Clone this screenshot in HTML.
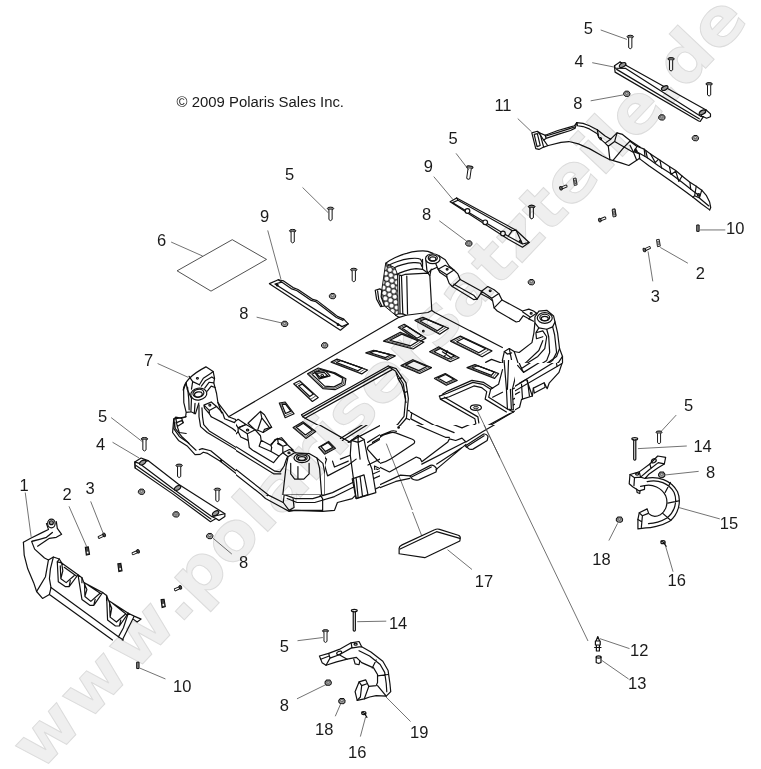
<!DOCTYPE html>
<html><head><meta charset="utf-8"><title>Polaris parts diagram</title>
<style>
html,body{margin:0;padding:0;background:#fff;}
svg{display:block}
.wm{font-family:"DejaVu Sans","Liberation Sans",sans-serif;font-weight:bold;fill:#efefef;stroke:#dcdcdc;stroke-width:1;stroke-linejoin:miter}
.lb{font-family:"Liberation Sans",sans-serif;font-size:16.5px;fill:#1a1a1a;text-anchor:middle}
.cp{font-family:"Liberation Sans",sans-serif;font-size:14.9px;fill:#1a1a1a}
.ld{stroke:#444;stroke-width:0.75;fill:none;vector-effect:non-scaling-stroke}
.p{stroke:#111;stroke-width:1.2;fill:none;stroke-linejoin:round;stroke-linecap:round;vector-effect:non-scaling-stroke}
.t{stroke:#333;stroke-width:0.85;fill:none;stroke-linejoin:round;stroke-linecap:round;vector-effect:non-scaling-stroke}
.k{stroke:#111;stroke-width:1.3;fill:none;stroke-linejoin:round;stroke-linecap:round;vector-effect:non-scaling-stroke}
.w{stroke:#111;stroke-width:1.2;fill:#fff;stroke-linejoin:round;stroke-linecap:round;vector-effect:non-scaling-stroke}
.g{stroke:#222;stroke-width:0.9;fill:#bbb;stroke-linejoin:round;vector-effect:non-scaling-stroke}
.h{stroke:#1a1a1a;stroke-width:1;fill:url(#hex);stroke-linejoin:round;vector-effect:non-scaling-stroke}
.d{stroke:#111;stroke-width:1.2;fill:#999;stroke-linejoin:round;vector-effect:non-scaling-stroke}
</style></head><body>
<svg width="761" height="769" viewBox="0 0 761 769">
<rect width="761" height="769" fill="#fff"/>
<defs>
<pattern id="hex" width="28" height="48" patternUnits="userSpaceOnUse" patternTransform="rotate(20)"><rect width="28" height="48" fill="#fff"/><path d="M14,0V8L0,16V32L14,40V48M14,8L28,16V32L14,40" fill="none" stroke="#1a1a1a" stroke-width="6"/></pattern>
<g id="scr"><ellipse cx="0" cy="0" rx="3.2" ry="1.4" fill="#777" stroke="#111" stroke-width="1"/><path d="M-1.6,1.2V11Q0,13.2 1.6,11V1.2" fill="#fff" stroke="#111" stroke-width="1" stroke-linejoin="round"/></g>
<g id="nut"><path d="M-3.1,-0.5L-1.5,-2.4L1.7,-2.4L3.2,-0.4L3,1.6L1.4,2.9L-1.7,2.7L-3.1,1.2Z" fill="#999" stroke="#111" stroke-width="1"/><ellipse cx="0" cy="-0.3" rx="1.4" ry="1" fill="#ddd" stroke="#333" stroke-width="0.6"/></g>
<g id="blt"><path d="M-1.2,-1.1H3.8Q4.6,0 3.8,1.1H-1.2Z" fill="#fff" stroke="#111" stroke-width="0.9"/><ellipse cx="-2.3" cy="0" rx="1.3" ry="1.9" fill="#666" stroke="#111" stroke-width="0.9"/></g>
<g id="bltr"><path d="M1.2,-1.1H-3.8Q-4.6,0 -3.8,1.1H1.2Z" fill="#fff" stroke="#111" stroke-width="0.9"/><ellipse cx="2.3" cy="0" rx="1.3" ry="1.9" fill="#444" stroke="#111" stroke-width="0.9"/></g>
<g id="clp"><path d="M-1.8,-3.4L0.9,-3.8L2,3L-0.8,3.6Z" fill="#fff" stroke="#111" stroke-width="0.9"/><path d="M-0.7,-1.8L0.5,-2L1,1.6L-0.2,1.8Z" fill="none" stroke="#111" stroke-width="0.6"/></g>
<g id="clpd"><path d="M-2,-3.8L1,-4.2L2.2,3.2L-1,4Z" fill="#444" stroke="#111" stroke-width="1.1"/><path d="M-0.6,0.6L0.9,0.4L1.2,2.2L-0.3,2.5Z" fill="#fff"/></g>
<g id="pin"><path d="M-1.2,-3.2H1.2V3.2H-1.2Z" fill="#888" stroke="#111" stroke-width="1"/></g>
</defs>
<!-- b1_130_330.txt -->
<clipPath id="cb1_130_330"><rect x="-152.2" y="-152.2" width="690.0" height="1116.1"/></clipPath>
<g transform="translate(130,330) scale(0.19711)" clip-path="url(#cb1_130_330)">
<clipPath id="cb1_130_330"><rect x="-152.2" y="-152.2" width="690.0" height="1116.1"/></clipPath>
<path class="p" d="M270,305 C274,268 310,226 385,187 L422,211 L429,245 L425,268 L439,321 L446,368 L465,421"/>
<path class="p" d="M352,278 L372,245 L409,221 L422,211 M362,285 L382,258 L415,238 L425,245 M379,295 L402,265 L425,268 M392,310 L412,285 L432,292"/>
<ellipse class="p" cx="349" cy="325" rx="41" ry="30" transform="rotate(-10 349 325)"/>
<ellipse class="p" cx="347" cy="321" rx="28" ry="20" transform="rotate(-10 347 321)"/>
<ellipse class="p" cx="347" cy="327" rx="20" ry="13" transform="rotate(-10 347 327)"/>
<ellipse class="p" cx="342" cy="245" rx="5" ry="4" transform="rotate(0 342 245)"/>
<path class="p" d="M375,381 L412,365 L439,388 L402,408 Z M375,381 L378,396 L402,424 L402,408 M402,424 L412,440"/>
<ellipse class="p" cx="405" cy="381" rx="5" ry="5" transform="rotate(0 405 381)"/>
<path class="p" d="M312,348 L309,415 L332,425 L349,371 M272,301 L273,368 L285,418 L309,415 M285,268 L290,300 L312,348 M285,418 L282,440"/>
<path class="p" d="M282,440 L222,452 L216,520 L246,560 L292,590 L330,632 L356,631 L372,620 L394,626 L458,666 L560,745 L640,808"/>
<path class="p" d="M222,452 L232,442 L262,448 L270,470 L240,490 L250,520 L285,525 M232,442 L236,470 L240,490 M228,470 L222,500 L250,540 L292,570 L335,610"/>
<path class="p" d="M365,395 L368,440 L374,480 L402,512 L548,602 L640,660"/>
<path class="p" d="M350,380 L350,440 L358,490 L392,520 L548,613 L640,671"/>
<path class="p" d="M412,440 L470,470 L520,500 L545,520 L575,470 L540,455 L530,470 L480,450 L470,420 L439,388"/>
<path class="p" d="M545,455 L590,480 L640,515 L600,540 L560,510 M640,515 L660,540 L610,580 L620,600 L700,640 L761,662 M600,540 L610,580"/>
<ellipse class="p" cx="597" cy="508" rx="5" ry="5" transform="rotate(0 597 508)"/>
<path class="p" d="M600,500 L650,440 L690,420 L720,490 L700,510 L660,530 M650,440 L660,470 L700,510 M690,420 L761,470"/>
<ellipse class="d" cx="462" cy="663" rx="3" ry="3" transform="rotate(0 462 663)"/>
<path class="ld" d="M140,170 L295,240"/>
<path class="p" d="M292,290 L298,350 L300,405 M330,372 L326,425 M285,268 L272,301 M300,235 L318,262 L352,278 M318,262 L312,300 M446,368 L470,400 L500,440 L540,455"/>
<path class="p" d="M222,452 L230,500 L262,540 L300,575 M262,448 L285,440 M236,470 L262,460 L270,470"/>
</g>
<!-- b2_270_300.txt -->
<clipPath id="cb2_270_300"><rect x="-111.6" y="0.0" width="263.8" height="507.3"/><rect x="152.2" y="0.0" width="253.7" height="634.2"/><rect x="405.9" y="304.4" width="304.4" height="329.8"/></clipPath>
<g transform="translate(270,300) scale(0.19711)" clip-path="url(#cb2_270_300)">
<clipPath id="cb2_270_300"><rect x="-111.6" y="0.0" width="263.8" height="507.3"/><rect x="152.2" y="0.0" width="253.7" height="634.2"/><rect x="405.9" y="304.4" width="304.4" height="329.8"/></clipPath>
<path class="k" d="M160,582 L600,335 M166,592 L608,342"/>
<path class="p" d="M160,582 L166,592 L178,600 M600,335 L640,348 L690,420 L702,500 L692,600 L650,648 M608,342 L636,360 L676,425 L688,500 L680,590 L645,635"/>
<path class="p" d="M178,600 L622,352 M178,600 L420,730 M645,635 L360,745 M650,648 L380,761 M690,600 L761,628 M700,560 L761,585"/>
<path class="p" d="M640,370 L650,400 L668,395 M668,430 L680,470 L695,465 M650,400 L668,430 M680,470 L690,520"/>
<ellipse class="d" cx="652" cy="648" rx="5" ry="4" transform="rotate(0 652 648)"/>
<path class="p" d="M430,690 L470,700 L480,761 M420,730 L430,690 M600,761 L590,730"/>
<path class="p" d="M560,700 L690,670 L761,720"/>
<path class="p" d="M540,0 L560,40 L600,70 L660,90 L665,60 M640,95 L700,85 L761,65"/>
</g>
<!-- b34_420_240.txt -->
<g transform="translate(420,240) scale(0.15769)">
<path class="p" d="M120,100 L160,125 L185,165 L215,190 L240,215 L255,250 L390,325 L430,295 L470,315 L500,340 L520,380 L650,450 L690,438 L720,450 L761,480"/>
<path class="p" d="M115,185 L125,205 L170,235 L185,275 L205,295 L340,378 L362,375 L385,340 L395,345 L440,370 L460,385 L470,430 L490,450 L610,520 L630,515 L655,480 L690,500 L720,515"/>
<path class="p" d="M115,185 L160,160 L215,190 L170,220 Z M170,220 L170,235 M120,100 L100,150 L115,185"/>
<path class="p" d="M390,325 L455,370 L500,340 M455,370 L460,385 M385,340 L390,325"/>
<path class="p" d="M650,455 L700,490 L740,465 M700,490 L690,500 M255,250 L205,295 M520,380 L470,430 M362,375 L340,350 L215,280"/>
<ellipse class="p" cx="172" cy="186" rx="6" ry="5" transform="rotate(0 172 186)"/>
<ellipse class="p" cx="445" cy="322" rx="6" ry="5" transform="rotate(0 445 322)"/>
<ellipse class="p" cx="705" cy="466" rx="6" ry="5" transform="rotate(0 705 466)"/>
</g>
<!-- b3_350_210.txt -->
<clipPath id="cb3_350_210"><rect x="-50.7" y="-50.7" width="659.5" height="811.7"/></clipPath>
<g transform="translate(350,210) scale(0.19711)" clip-path="url(#cb3_350_210)">
<clipPath id="cb3_350_210"><rect x="-50.7" y="-50.7" width="659.5" height="811.7"/></clipPath>
<path class="h" d="M181,270 L228,293 L241,327 L245,527 L231,534 L175,487 L158,440 L161,407 Z"/>
<path class="w" d="M278,327 L395,320 L405,333 L415,510 L395,520 L285,534 L268,527 L261,333 Z"/>
<path class="p" d="M181,270 C200,255 250,228 288,220 C320,210 370,204 395,210 L421,220"/>
<path class="p" d="M191,283 C210,272 260,252 301,247 C330,243 350,246 358,250 L368,270 M225,293 C240,285 290,268 321,267 C340,266 352,268 358,270 L365,287 M238,327 C250,318 300,300 335,297 L368,301 L395,320"/>
<path class="p" d="M241,327 L261,333 M245,527 L268,527 M231,534 L250,545 L285,534 M250,335 L254,527 M288,335 L292,528 M368,250 L368,301 M385,255 L390,305 L395,320"/>
<ellipse class="w" cx="420" cy="247" rx="37" ry="25" transform="rotate(0 420 247)"/>
<ellipse class="p" cx="420" cy="244" rx="23" ry="16" transform="rotate(0 420 244)"/>
<ellipse class="p" cx="420" cy="248" rx="16" ry="10" transform="rotate(0 420 248)"/>
<path class="w" d="M128,407 L151,400 L161,407 L158,440 L175,487 L155,490 L135,453 Z"/>
<path class="p" d="M140,410 L146,455 L160,485 M395,320 L410,305 L440,292 M415,510 L430,520 L761,692 M405,333 L412,300"/>
<ellipse class="p" cx="372" cy="615" rx="4" ry="4" transform="rotate(0 372 615)"/>
</g>
<!-- b4_460_250.txt -->
<clipPath id="cb4_460_250"><rect x="50.7" y="-50.7" width="761.0" height="624.0"/></clipPath>
<g transform="translate(460,250) scale(0.19711)" clip-path="url(#cb4_460_250)">
<clipPath id="cb4_460_250"><rect x="50.7" y="-50.7" width="761.0" height="624.0"/></clipPath>
<path class="w" d="M380,340 L400,310 L440,306 L475,335 L482,365 L470,390 L440,402 L400,395 L380,370 Z"/>
<ellipse class="p" cx="430" cy="345" rx="38" ry="27" transform="rotate(0 430 345)"/>
<ellipse class="p" cx="430" cy="343" rx="25" ry="17" transform="rotate(0 430 343)"/>
<ellipse class="p" cx="430" cy="348" rx="18" ry="11" transform="rotate(0 430 348)"/>
<path class="p" d="M482,365 L495,420 L505,500 L520,540 L520,600 L490,640 L470,700 L440,761"/>
<path class="p" d="M470,390 L480,430 L490,520 L470,560 L330,660 L250,700 M440,402 L450,440 L455,520 L440,560 L320,640"/>
<path class="p" d="M385,420 L420,410 L440,440 L430,500 L395,540 L300,600 L290,580 M400,395 L385,420 L388,450 L420,440"/>
<path class="p" d="M380,370 L375,420 L365,470 L300,520 L275,515 L250,500 L225,515 L215,560 L235,700 L250,761"/>
<path class="p" d="M275,515 L300,590 L330,575 L400,510 L420,460 M250,500 L262,560 L268,700 M225,515 L240,528 L262,522"/>
<path class="p" d="M505,500 L490,540 L350,640 L345,700 L335,761 M520,540 L500,570 L360,665 M490,640 L430,680 L440,761 M300,761 L310,700 L345,700"/>
<path class="p" d="M0,383 L215,495"/>
<path class="p" d="M130,570 L160,555 L215,575 M140,600 L170,590"/>
<ellipse class="p" cx="150" cy="605" rx="5" ry="4" transform="rotate(0 150 605)"/>
<path class="p" d="M0,680 L60,690 L75,740 L150,761 M0,700 L50,712 L60,761 M60,690 L215,640"/>
<use href="#nut" transform="translate(362,162) rotate(0) scale(5.0733)"/>
</g>
<!-- b5_400_340.txt -->
<clipPath id="cb5_400_340"><rect x="50.7" y="101.5" width="532.7" height="329.8"/><rect x="507.3" y="431.2" width="76.1" height="329.8"/></clipPath>
<g transform="translate(400,340) scale(0.19711)" clip-path="url(#cb5_400_340)">
<clipPath id="cb5_400_340"><rect x="50.7" y="101.5" width="532.7" height="329.8"/><rect x="507.3" y="431.2" width="76.1" height="329.8"/></clipPath>
<path class="p" d="M200,285 L240,270 L370,215 L420,225 L460,250 L450,290 L545,350 L575,365"/>
<path class="p" d="M205,300 L250,288 L375,233 L415,242 L440,262 L432,300 L540,365"/>
<path class="p" d="M200,285 L205,300 L380,400 L385,425 L300,470 L250,495 L240,520 L100,600 L70,600 L0,640"/>
<path class="p" d="M225,290 L395,390 L400,420 M215,275 L235,262 L365,205 L425,215 L470,245"/>
<ellipse class="p" cx="385" cy="343" rx="28" ry="14" transform="rotate(0 385 343)"/>
<ellipse class="g" cx="385" cy="343" rx="13" ry="6" transform="rotate(0 385 343)"/>
<path class="w" d="M525,65 L550,42 L580,62 L600,130 L570,250 L575,355 L545,350 L540,250 Z"/>
<path class="p" d="M550,42 L552,70 L545,250 M525,65 L552,70 L580,62 M560,250 L565,350"/>
<path class="p" d="M590,80 L640,50 L700,0 M600,130 L660,100 L761,60 M610,100 L660,75 L720,20"/>
<path class="p" d="M575,365 L761,250 M570,250 L640,215 L761,160 M575,300 L761,200 M575,330 L761,225"/>
<path class="p" d="M610,230 L650,210 L660,290 L630,300 Z M690,230 L740,215 L745,240 M625,235 L632,295"/>
<path class="p" d="M460,250 L500,225 L520,150 M470,290 L520,265"/>
<path class="p" d="M575,365 L430,450 L440,480 L410,520 L355,555 L320,535 L300,500 L250,500"/>
<path class="w" d="M325,535 L420,480 L445,500 L355,555 Z"/>
<path class="w" d="M50,680 L160,635 L190,660 L80,705 Z"/>
<path class="p" d="M335,540 L420,492 M60,688 L165,645"/>
<path class="p" d="M0,620 L80,595 L100,615 L250,520 L300,505 L330,530 M100,630 L320,545 M0,655 L50,680 M0,690 L60,700 M560,372 L425,445"/>
<path class="p" d="M0,180 L35,230 L45,350 L0,420 M0,340 L60,370 L240,470 M20,200 L30,340 M0,480 L60,500 L80,530 L0,575 M60,370 L55,400 L240,495"/>
</g>
<!-- b6_230_400.txt -->
<clipPath id="cb6_230_400"><rect x="365.3" y="126.8" width="395.7" height="76.1"/><rect x="482.0" y="202.9" width="279.0" height="279.0"/><rect x="91.3" y="482.0" width="669.7" height="329.8"/></clipPath>
<g transform="translate(230,400) scale(0.19711)" clip-path="url(#cb6_230_400)">
<clipPath id="cb6_230_400"><rect x="365.3" y="126.8" width="395.7" height="76.1"/><rect x="482.0" y="202.9" width="279.0" height="279.0"/><rect x="91.3" y="482.0" width="669.7" height="329.8"/></clipPath>
<path class="p" d="M0,100 L40,95 L60,130 L100,155 L130,175 L160,170 L215,215 L250,195 L290,220 L300,250"/>
<path class="w" d="M90,120 L150,60 L185,90 L205,135 L150,170 L130,150 Z"/>
<path class="p" d="M150,60 L160,100 L205,135 M160,100 L130,150"/>
<path class="p" d="M45,140 L85,120 L130,150 L100,170 Z M0,180 L30,160 L45,140 M100,170 L95,225 L215,305 L225,320 L270,280 L250,260 M0,230 L230,345 L270,350 L280,300"/>
<ellipse class="p" cx="90" cy="148" rx="6" ry="5" transform="rotate(0 90 148)"/>
<path class="p" d="M215,215 L260,235 L280,215 M260,235 L255,265 L300,275 M0,150 L20,140 L30,160"/>
<ellipse class="p" cx="290" cy="270" rx="5" ry="4" transform="rotate(0 290 270)"/>
<path class="w" d="M300,285 L330,265 L400,268 L440,295 L460,340 L455,480 L470,500 L470,560 L330,560 L300,560 L270,520 L275,480 L285,330 Z"/>
<ellipse class="p" cx="360" cy="295" rx="45" ry="28" transform="rotate(0 360 295)"/>
<ellipse class="p" cx="360" cy="293" rx="28" ry="17" transform="rotate(0 360 293)"/>
<ellipse class="p" cx="360" cy="297" rx="20" ry="11" transform="rotate(0 360 297)"/>
<path class="p" d="M315,300 L320,370 L345,395 L390,390 L405,340 L405,300 M300,560 L325,545 L320,500"/>
<path class="p" d="M0,300 L190,480 L270,520 M0,330 L180,500 L300,565 L330,560 L470,565 L530,560 L545,520 L620,500 L640,480 L700,470 L761,440"/>
<path class="p" d="M275,480 L330,500 L420,500 L520,470 L620,420 L761,360 M290,500 L340,520 L430,520 L530,490 L620,445 L761,385"/>
<ellipse class="d" cx="190" cy="482" rx="3" ry="3" transform="rotate(0 190 482)"/>
<path class="w" d="M615,205 L650,180 L680,200 L700,300 L720,350 L740,470 L640,500 L610,280 Z"/>
<path class="p" d="M650,180 L650,215 L660,300 M615,205 L650,215 L680,200 M620,400 L680,380 L700,480 L640,500 Z M640,395 L650,495 M660,388 L672,488 M610,280 L560,300"/>
<path class="p" d="M470,290 L490,300 L480,330 L495,385 L600,330 L640,300 M520,310 L530,340 L600,310 M470,290 L470,320 L480,330"/>
<ellipse class="p" cx="478" cy="292" rx="5" ry="4" transform="rotate(0 478 292)"/>
<path class="p" d="M390,90 L610,215 M560,195 L761,70 M570,205 L761,85 M600,215 L761,130 M700,330 L761,300"/>
</g>
<!-- b6a_225_395.txt -->
<clipPath id="cb6a_225_395"><rect x="83.7" y="38.1" width="502.3" height="304.4"/><rect x="83.7" y="342.4" width="677.3" height="418.6"/></clipPath>
<g transform="translate(225,395) scale(0.13141)" clip-path="url(#cb6a_225_395)">
<clipPath id="cb6a_225_395"><rect x="83.7" y="38.1" width="502.3" height="304.4"/><rect x="83.7" y="342.4" width="677.3" height="418.6"/></clipPath>
<path class="p" d="M0,180 L70,205 L100,185 L160,225 L100,250 L70,205 M0,290 L55,325 L100,280 L100,250"/>
<path class="p" d="M100,250 L160,225 L230,265 L170,295 Z"/>
<ellipse class="p" cx="172" cy="266" rx="9" ry="7" transform="rotate(0 172 266)"/>
<path class="w" d="M175,215 L270,125 L300,150 L355,245 L290,285 L255,270 L230,265 Z"/>
<path class="p" d="M270,125 L280,175 L340,250 M250,262 L280,175 M290,285 L300,262 L355,245"/>
<path class="p" d="M170,295 L185,400 L210,420 L370,515 L410,465 L350,430 L355,400 M100,280 L120,320 L175,345"/>
<path class="p" d="M230,265 L270,310 L275,345 L350,385 L380,340 L430,325 L470,370 M275,345 L260,390 L350,430 M350,385 L355,400"/>
<path class="p" d="M440,440 L490,415 L540,440 L480,470 Z M350,375 L400,330 L440,345 L520,420 L490,415 M400,370 L440,390 L470,380 M400,330 L405,365 L440,390 L440,440"/>
<ellipse class="p" cx="487" cy="441" rx="8" ry="6" transform="rotate(0 487 441)"/>
<path class="p" d="M0,340 L380,580 L420,585 L450,540 L470,480 M0,370 L370,600 L425,600 M410,465 L440,440 M480,470 L470,480"/>
<path class="p" d="M0,500 L330,761 M0,540 L280,761"/>
<path class="w" d="M480,470 L530,440 L640,445 L700,480 L745,520 L761,600 L761,761 L440,761 L465,540 Z"/>
<ellipse class="p" cx="585" cy="480" rx="60" ry="35" transform="rotate(0 585 480)"/>
<ellipse class="p" cx="585" cy="477" rx="40" ry="22" transform="rotate(0 585 477)"/>
<ellipse class="p" cx="585" cy="483" rx="28" ry="14" transform="rotate(0 585 483)"/>
<path class="p" d="M500,520 L500,600 L530,640 L600,640 L640,600 L640,520 M555,545 L555,640 M700,480 L720,560 L735,761"/>
</g>
<!-- b7_340_400.txt -->
<clipPath id="cb7_340_400"><rect x="131.9" y="126.8" width="71.0" height="228.3"/><rect x="202.9" y="568.2" width="558.1" height="319.6"/></clipPath>
<g transform="translate(340,400) scale(0.19711)" clip-path="url(#cb7_340_400)">
<clipPath id="cb7_340_400"><rect x="131.9" y="126.8" width="71.0" height="228.3"/><rect x="202.9" y="568.2" width="558.1" height="319.6"/></clipPath>
<path class="p" d="M140,250 Q135,235 160,225 L250,172 Q262,166 280,172 L372,205 Q385,212 370,225 L225,318 Q210,325 195,312 Z"/>
<path class="p" d="M165,215 L255,162 Q268,156 285,162"/>
<path class="ld" d="M235,225 L415,690"/>
<path class="p" d="M0,175 L320,0 M0,190 L330,5 M350,30 L340,90 L140,215 M350,100 L540,200 L560,195 M380,50 L640,165 M330,5 L350,30 M345,60 L520,150"/>
<ellipse class="d" cx="295" cy="140" rx="4" ry="3" transform="rotate(0 295 140)"/>
<path class="p" d="M175,335 L240,365 L390,290 L410,300 L400,325 L470,330 L490,355 M300,395 L250,440 L185,465 L175,335 M185,350 L240,380 L385,305"/>
<path class="w" d="M350,375 L460,330 L490,350 L385,400 Z"/>
<path class="w" d="M630,225 L730,175 L750,195 L660,250 Z"/>
<path class="p" d="M358,380 L462,338 M638,230 L732,183 M545,200 L600,190 L640,215 L420,300 L410,300 M490,355 L640,275 M300,395 L350,378"/>
<path class="p" d="M180,460 L250,430 L300,400 M195,472 L640,245 M250,440 L400,370 M640,215 L640,245"/>
<ellipse class="p" cx="690" cy="38" rx="28" ry="13" transform="rotate(0 690 38)"/>
<ellipse class="g" cx="690" cy="38" rx="12" ry="5" transform="rotate(0 690 38)"/>
<path class="p" d="M510,10 L560,0 M520,15 L690,100 L660,130 L600,150 M690,100 L761,130 M700,120 L761,150"/>
<path class="w" d="M300,752 Q300,742 315,735 L480,658 Q492,652 505,656 L600,686 Q612,690 610,702 L608,715 L430,800 L300,780 Z"/>
<path class="p" d="M305,756 L490,668 L608,702"/>
</g>
<!-- b7a_380_390.txt -->
<clipPath id="cb7a_380_390"><rect x="0.0" y="222.0" width="761.0" height="551.7"/></clipPath>
<g transform="translate(380,390) scale(0.15769)" clip-path="url(#cb7a_380_390)">
<clipPath id="cb7a_380_390"><rect x="0.0" y="222.0" width="761.0" height="551.7"/></clipPath>
<path class="p" d="M160,0 L165,60 L180,130 L160,200 L120,230 M185,0 L190,60 L200,130 L185,190"/>
<path class="p" d="M205,120 L520,240 L600,205 L590,180 L420,100 L380,60 M185,200 L415,300 L440,300 M200,160 L470,270"/>
<path class="p" d="M0,300 Q10,285 70,270 Q85,266 100,272 L205,312 Q228,322 215,340 L70,436 Q40,455 0,465 M0,290 L72,260 Q88,256 104,262"/>
<ellipse class="d" cx="118" cy="238" rx="5" ry="4" transform="rotate(0 118 238)"/>
<path class="ld" d="M40,340 L205,761"/>
<path class="p" d="M0,490 L60,520 L230,425 L255,435 L265,455 L430,330 L440,310 L480,320 L520,305 L545,330 L650,265 L761,200"/>
<path class="w" d="M190,545 L320,478 Q340,470 360,500 L355,520 L245,570 Q220,575 205,565 Z"/>
<path class="w" d="M540,355 L655,280 Q675,275 685,295 L680,320 L590,375 Q570,380 560,370 Z"/>
<path class="p" d="M200,552 L325,488 M548,362 L660,290 M0,600 L130,540 L190,545 M265,470 L540,330 M0,620 L100,580 M360,470 L520,365 M100,580 L190,560 M355,505 L545,345"/>
<ellipse class="p" cx="607" cy="110" rx="38" ry="20" transform="rotate(0 607 110)"/>
<ellipse class="g" cx="607" cy="110" rx="15" ry="8" transform="rotate(0 607 110)"/>
<path class="ld" d="M615,130 L761,430"/>
</g>
<!-- b8_490_330.txt -->
<clipPath id="cb8_490_330"><rect x="126.8" y="167.4" width="684.9" height="644.3"/></clipPath>
<g transform="translate(490,330) scale(0.19711)" clip-path="url(#cb8_490_330)">
<clipPath id="cb8_490_330"><rect x="126.8" y="167.4" width="684.9" height="644.3"/></clipPath>
<path class="p" d="M330,0 L350,60 L370,130 L365,170 L350,215 L300,270 L290,298 L275,268 L220,295 L215,335 L160,352 L150,392 L100,420 L0,480 M0,495 L100,435 L110,420"/>
<path class="p" d="M125,112 L145,160 L160,195 L260,130 L275,100 L270,50 L295,40 L290,0"/>
<path class="p" d="M140,180 L170,215 L275,150 L300,110 L310,0 M160,195 L170,215 M260,130 L275,150"/>
<path class="p" d="M120,290 L330,160 L350,140 L360,100 M125,310 L340,185 L365,170 M122,330 L150,315"/>
<path class="p" d="M150,270 L185,250 L215,335 M160,275 L165,350 M190,255 L200,335 M225,320 L280,290 L275,268 M225,320 L220,295"/>
<path class="p" d="M215,20 L250,5 L280,20 L250,40 Z M215,20 L218,50 L250,70 L250,40 M250,70 L270,50"/>
<path class="p" d="M310,60 L330,120 L340,185 M0,100 L70,130 M0,300 L85,330 M0,200 L40,210 L60,300 L40,330 M0,240 L45,250"/>
</g>
<!-- p11a_520_110.txt -->
<g transform="translate(520,110) scale(0.15769)">
<path class="p" d="M75,145 L110,135 L130,160 L150,235 L120,250 L100,245 Z M90,155 L110,150 L128,225 L108,232 Z M110,135 L135,150 L160,160"/>
<path class="p" d="M160,160 L240,130 L310,110 L345,100 L360,80 L400,85 L440,100 L490,125 L540,165 L575,185 L615,145 L650,155 L700,195 L745,225 L761,235"/>
<path class="p" d="M165,165 L245,140 L315,118 L345,108 M165,180 L240,155 L320,130 L350,115 L360,80 M160,160 L165,180 L150,190"/>
<path class="p" d="M150,235 L180,225 L260,205 L310,200 L370,215 L440,245 L520,290 L570,315 L640,335 L690,352 L740,318 L761,305"/>
<path class="p" d="M130,160 L150,190 L175,225 M360,80 L365,100 L400,105 L440,120 L490,150 L500,175"/>
<path class="p" d="M490,125 L500,175 L540,210 L575,185 M540,210 L560,230 L600,200 L615,145 M600,200 L660,235 L700,195 M660,235 L590,320 M660,235 L720,270 L745,225 M720,270 L740,318 M560,230 L570,315"/>
<ellipse class="p" cx="512" cy="182" rx="5" ry="7" transform="rotate(-20 512 182)"/>
<ellipse class="p" cx="738" cy="262" rx="5" ry="5" transform="rotate(0 738 262)"/>
</g>
<!-- p11b_630_120.txt -->
<g transform="translate(630,120) scale(0.15769)">
<path class="p" d="M0,135 L40,165 L90,185 L130,215 L190,255 L250,295 L290,320 L330,355 L380,395 L420,420 L455,445 L485,480 L505,520 L512,555 L505,570"/>
<path class="p" d="M60,245 L120,290 L200,345 L270,395 L340,445 L400,490 L450,530 L505,570"/>
<path class="p" d="M40,200 L110,240 L180,290 L250,335 L330,395 L400,450 L440,480"/>
<path class="p" d="M100,195 L110,240 M130,215 L160,270 L180,250 M250,295 L260,345 L290,325 L310,390 L330,355 M190,255 L200,305 M380,395 L385,440"/>
<path class="p" d="M420,420 L410,480 L440,495 L455,445 M440,495 L500,545 M410,480 L400,490 M0,160 L20,200 L60,215 L60,245 M90,185 L95,230"/>
<ellipse class="p" cx="435" cy="475" rx="8" ry="8" transform="rotate(0 435 475)"/>
<ellipse class="p" cx="35" cy="190" rx="5" ry="5" transform="rotate(0 35 190)"/>
</g>
<!-- p15_560_390.txt -->
<g transform="translate(560,390) scale(0.26413)">
<path class="w" d="M265,320 L300,310 L340,280 L370,250 L400,255 L395,280 L370,295 L335,320 L322,335 C370,325 420,340 445,385 C460,420 450,470 415,497 C385,515 340,522 325,522 L295,526 L295,490 L300,465 L330,450 L336,468 C350,482 365,480 380,472 C400,460 412,430 400,400 C385,370 350,355 320,362 L320,376 L300,382 L275,366 L262,355 Z"/>
<path class="p" d="M300,310 L305,330 L340,300 L372,275 L395,280 M305,330 L322,335 M340,280 L345,297 M265,320 L282,332 L305,330 M282,332 L280,362 M305,365 L320,362"/>
<path class="p" d="M330,347 C372,338 412,352 432,388 C445,420 436,460 405,485 C380,500 350,506 335,506 M418,350 L398,388 M450,420 L408,428 M420,494 L388,466"/>
<path class="p" d="M300,465 L312,476 L332,468 M312,476 L308,520 M295,490 L308,498"/>
<ellipse class="p" cx="355" cy="268" rx="10" ry="7" transform="rotate(-35 355 268)"/>
<ellipse class="p" cx="292" cy="318" rx="6" ry="4" transform="rotate(0 292 318)"/>
<path class="p" d="M290,375 L292,388 L302,392 L303,382"/>
<use href="#scr" transform="translate(375,160) rotate(0) scale(3.5968)"/>
<ellipse class="w" cx="283" cy="185" rx="11" ry="5" transform="rotate(0 283 185)"/>
<path class="p" d="M279,188 L279,262 Q283,270 287,262 L287,188"/>
<use href="#nut" transform="translate(385,320) rotate(0) scale(3.7861)"/>
<use href="#nut" transform="translate(225,490) rotate(0) scale(3.7861)"/>
<ellipse class="w" cx="390" cy="576" rx="8" ry="6" transform="rotate(0 390 576)"/>
<path class="p" d="M394,580 L402,592 M383,572 L397,580"/>
<path class="ld" d="M440,95 L380,160"/>
<path class="ld" d="M295,222 L480,212"/>
<path class="ld" d="M525,308 L395,322"/>
<path class="ld" d="M605,488 L450,445"/>
<path class="ld" d="M218,505 L185,570"/>
<path class="ld" d="M400,592 L428,688"/>
</g>
<!-- p19_260_590.txt -->
<g transform="translate(260,590) scale(0.26413)">
<path class="w" d="M225,250 L260,240 L300,225 L345,200 L375,195 L385,215 L420,235 L465,270 L485,305 L492,355 L495,385 L478,402 L440,400 L415,405 L395,412 L368,418 L360,385 L375,348 L400,340 L412,365 L440,362 L445,350 L445,320 L430,295 L385,275 L365,255 L330,262 L290,272 L250,285 L235,275 Z"/>
<path class="p" d="M260,240 L265,258 L300,245 L345,220 L375,215 L385,215 M265,258 L250,285 M345,200 L348,218 M230,262 L262,250 M300,245 L330,262"/>
<path class="p" d="M375,230 L415,250 L455,282 L472,312 L478,355 L480,385 M440,265 L425,295 M485,320 L445,325 M478,402 L445,362 M412,365 L395,412 M375,348 L385,362 L405,355 M385,362 L380,405 L368,418"/>
<ellipse class="p" cx="300" cy="238" rx="10" ry="6" transform="rotate(-25 300 238)"/>
<ellipse class="p" cx="362" cy="205" rx="6" ry="4" transform="rotate(0 362 205)"/>
<path class="p" d="M355,262 L360,280 L375,283 L378,268"/>
<ellipse class="w" cx="357" cy="78" rx="11" ry="5" transform="rotate(0 357 78)"/>
<path class="p" d="M353,81 L353,152 Q357,160 361,152 L361,81"/>
<use href="#scr" transform="translate(248,155) rotate(0) scale(3.5968)"/>
<use href="#nut" transform="translate(258,350) rotate(0) scale(3.7861)"/>
<use href="#nut" transform="translate(310,420) rotate(0) scale(3.7861)"/>
<ellipse class="w" cx="393" cy="466" rx="8" ry="6" transform="rotate(0 393 466)"/>
<path class="p" d="M397,470 L405,482 M386,462 L400,470"/>
<path class="ld" d="M368,120 L478,118"/>
<path class="ld" d="M142,192 L238,180"/>
<path class="ld" d="M140,412 L250,358"/>
<path class="ld" d="M305,432 L285,478"/>
<path class="ld" d="M400,480 L380,555"/>
<path class="ld" d="M570,498 L470,398"/>
</g>
<!-- p1_0_460.txt -->
<g transform="translate(0,460) scale(0.19711)">
<use href="#clpd" transform="translate(443,462) rotate(0) scale(5.0733)"/>
<use href="#bltr" transform="translate(518,385) rotate(-25) scale(5.0733)"/>
<use href="#bltr" transform="translate(690,468) rotate(-25) scale(5.0733)"/>
<use href="#clpd" transform="translate(608,546) rotate(0) scale(5.0733)"/>
<path class="ld" d="M128,165 L158,390"/>
<path class="ld" d="M350,235 L440,440"/>
<path class="ld" d="M460,210 L525,375"/>
</g>
<!-- p1b_60_540.txt -->
<g transform="translate(60,540) scale(0.19711)">
<use href="#clpd" transform="translate(523,322) rotate(0) scale(5.0733)"/>
<use href="#bltr" transform="translate(600,245) rotate(-25) scale(5.0733)"/>
<use href="#pin" transform="translate(395,636) rotate(0) scale(5.0733)"/>
<path class="ld" d="M405,650 L535,705"/>
</g>
<!-- p1c_10_490.txt -->
<g transform="translate(10,490) scale(0.19711)">
<path class="p" d="M68,265 L105,245 L165,215 L195,200 L185,170 M235,160 L240,195 L262,225 L235,240 L200,245 L140,285"/>
<ellipse class="p" cx="210" cy="170" rx="19" ry="22" transform="rotate(0 210 170)"/>
<ellipse class="d" cx="210" cy="166" rx="10" ry="10" transform="rotate(0 210 166)"/>
<path class="k" d="M112,260 L150,250 L185,240 L215,215"/>
<path class="p" d="M68,265 L72,330 L90,400 L120,470 L135,515 L165,550 L200,530 L208,495"/>
<path class="p" d="M110,262 L125,300 L175,345 L195,355 M195,355 L180,440 L150,490 L135,515 M220,340 L205,400 L200,450 L208,495"/>
<path class="p" d="M195,355 L220,340 L250,350 L262,370"/>
<path class="p" d="M240,365 L262,370 L345,430 L300,490 L280,490 L245,465 Z M255,385 L258,450 L285,470 L325,435 M262,370 L268,410 L258,450 M300,490 L306,460 M275,392 L335,435"/>
<path class="p" d="M345,430 L365,445 L375,470 L470,520 L425,585 L405,585 L365,555 Z M378,470 L380,540 L410,565 L455,525 M375,470 L390,505 L380,540 M425,585 L432,555 M395,482 L460,525"/>
<path class="p" d="M470,520 L490,535 L500,560 L600,625 L555,690 L535,690 L495,660 L490,535 M505,570 L508,645 L540,670 L585,630 M500,560 L516,600 L508,645 M555,690 L562,660 M520,575 L590,630"/>
<path class="p" d="M600,625 L630,640 L665,655 L645,670 L625,655 M630,640 L600,700 L570,761 M600,625 L575,700 L550,745"/>
<path class="p" d="M200,530 L520,761 M208,495 L550,745 L575,761 M250,350 L240,365 M365,445 L365,470 M490,535 L490,560"/>
</g>
<!-- pads.txt -->
<g transform="translate(0,0) scale(1.00000)">
<path class="w" d="M293.7,383.8 L299.6,380.8 L318.3,397.6 L312.4,401.5 Z"/><path class="t" d="M296.2,384.8 L300.9,382.4 L315.8,395.9 L311.1,399.0 Z"/><path class="p" d="M298.6,385.9 L302.2,384.1 L313.4,394.1 L309.8,396.5 Z"/>
<path class="w" d="M307.5,373.9 L318.3,368 L335,372.9 L345.9,378.8 L344.9,384.8 L335,389.7 L323.2,388.7 Z"/><path class="t" d="M309.7,374.1 L319.5,368.8 L334.5,373.2 L344.3,378.5 L343.4,383.9 L334.5,388.3 L323.9,387.4 Z"/><path class="p" d="M312.0,374.2 L320.6,369.5 L334.0,373.4 L342.7,378.1 L341.9,382.9 L334.0,386.9 L324.6,386.1 Z"/>
<path class="w" d="M331.1,362.1 L337,359.1 L367.6,370 L361.7,373.9 Z"/><path class="t" d="M333.8,362.3 L338.9,359.8 L364.9,369.0 L359.8,372.4 Z"/><path class="p" d="M336.6,362.6 L340.7,360.5 L362.1,368.1 L358.0,370.8 Z"/>
<path class="w" d="M365.8,352.9 L373.7,350.3 L395.3,355.9 L387.5,360 Z"/><path class="t" d="M368.0,352.8 L374.7,350.6 L393.1,355.3 L386.5,358.8 Z"/><path class="p" d="M370.2,352.7 L375.8,350.8 L390.9,354.8 L385.4,357.6 Z"/>
<path class="w" d="M415,320.4 L422.9,317.4 L448.6,328.3 L439.7,334.2 Z"/><path class="t" d="M417.5,320.7 L424.2,318.2 L446.0,327.4 L438.5,332.4 Z"/><path class="p" d="M420.0,321.0 L425.5,318.9 L443.5,326.5 L437.3,330.7 Z"/>
<path class="w" d="M398.3,327.3 L404.2,324.3 L425.9,338.1 L419,341.7 Z"/><path class="t" d="M400.3,327.7 L405.3,325.2 L423.8,336.9 L417.9,340.0 Z"/><path class="p" d="M402.4,328.2 L406.5,326.1 L421.7,335.7 L416.9,338.2 Z"/>
<path class="w" d="M383.5,341.1 L400.3,332.2 L423.9,342.1 L413.1,349 Z"/><path class="t" d="M386.8,340.7 L401.0,333.1 L421.1,341.6 L411.9,347.4 Z"/><path class="p" d="M390.0,340.3 L401.8,334.1 L418.3,341.0 L410.7,345.8 Z"/>
<path class="w" d="M450.5,341.1 L460.4,336.1 L491.9,350.9 L482.1,356.8 Z"/><path class="t" d="M453.6,341.5 L462.0,337.2 L488.8,349.8 L480.5,354.8 Z"/><path class="p" d="M456.7,341.8 L463.6,338.3 L485.7,348.7 L478.8,352.8 Z"/>
<path class="w" d="M429.6,351.8 L438.4,346.9 L459.1,357.7 L450.3,361.7 Z"/><path class="t" d="M431.8,351.8 L439.3,347.6 L456.9,356.8 L449.4,360.2 Z"/><path class="p" d="M434.0,351.8 L440.2,348.4 L454.7,355.9 L448.5,358.7 Z"/>
<path class="p" d="M442.4,351.8 L451.6,358.1 M447.3,350.8 L444.4,356.8"/>
<path class="w" d="M401,365.6 L412.8,359.7 L431.5,367.6 L419.7,373.5 Z"/><path class="t" d="M403.3,365.4 L413.3,360.3 L429.2,367.1 L419.2,372.1 Z"/><path class="p" d="M405.6,365.1 L413.8,361.0 L426.9,366.5 L418.7,370.6 Z"/>
<path class="w" d="M434.5,378.4 L445.3,373.5 L457.2,380.4 L446.3,385.3 Z"/><path class="t" d="M436.2,378.1 L445.4,374.0 L455.5,379.9 L446.2,384.0 Z"/><path class="p" d="M437.9,377.9 L445.5,374.5 L453.8,379.3 L446.2,382.7 Z"/>
<path class="w" d="M467,367.6 L474.9,364.6 L498.6,373.5 L494.6,378.4 Z"/><path class="t" d="M469.5,367.7 L476.2,365.2 L496.4,372.7 L493.0,376.9 Z"/><path class="p" d="M472.0,367.8 L477.6,365.7 L494.2,372.0 L491.4,375.4 Z"/>
<path class="w" d="M279.3,403 L285.2,402 L294.1,413.8 L285.2,417.7 Z"/><path class="t" d="M280.6,403.8 L285.3,403.0 L292.5,412.5 L285.3,415.6 Z"/><path class="p" d="M282.0,404.6 L285.5,404.1 L290.8,411.1 L285.5,413.5 Z"/>
<path class="w" d="M293.1,427.6 L302.9,421.7 L315.7,431.5 L305.9,438.4 Z"/><path class="t" d="M294.8,427.5 L303.1,422.5 L314.0,430.8 L305.7,436.7 Z"/><path class="p" d="M296.5,427.5 L303.3,423.3 L312.3,430.2 L305.4,435.0 Z"/>
<path class="w" d="M318.7,447.3 L328.6,441.4 L335.5,448.3 L324.6,454.2 Z"/><path class="t" d="M319.9,447.0 L328.3,442.0 L334.2,447.8 L324.9,452.8 Z"/><path class="p" d="M321.1,446.6 L328.1,442.5 L332.9,447.4 L325.3,451.5 Z"/>
<path class="p" d="M314.4,372 L325.2,370.6 L330.1,375.9 L319.3,378.8 Z M316.3,373.3 L324.2,372.3 L327.6,375.9 L320.3,377.5 Z"/>
<ellipse class="p" cx="322.2" cy="375.6" rx="1.3" ry="1.1" transform="rotate(0 322.2 375.6)"/>
</g>
<!-- t_140_150.txt -->
<g transform="translate(140,150) scale(0.19711)">
<path class="t" d="M190,612 L468,455 L642,555 L362,715 Z"/>
<path class="ld" d="M158,467 L318,538"/>
<path class="ld" d="M648,408 L715,655"/>
</g>
<!-- t_150_420.txt -->
<g transform="translate(150,420) scale(0.19711)">
<path class="p" d="M250,150 L265,145 L308,156 L367,204 L436,257"/>
<ellipse class="d" cx="360" cy="208" rx="3" ry="3" transform="rotate(0 360 208)"/>
<path class="ld" d="M320,600 L415,680"/>
</g>
<!-- t_230_150.txt -->
<g transform="translate(230,150) scale(0.19711)">
<use href="#scr" transform="translate(510,297) rotate(0) scale(5.0733)"/>
<use href="#scr" transform="translate(318,410) rotate(0) scale(5.0733)"/>
<use href="#scr" transform="translate(628,607) rotate(0) scale(5.0733)"/>
<path class="ld" d="M368,190 L498,318"/>
</g>
<!-- t_230_260.txt -->
<g transform="translate(230,260) scale(0.19711)">
<path class="w" d="M200,120 L245,100 L272,106 L320,140 L345,150 L420,200 L442,206 L520,266 L545,286 L577,300 L600,324 L560,356 Z"/>
<path class="p" d="M228,122 L262,112 L310,145 L340,156 L412,205 L436,212 L512,270 L540,292 L572,306 M228,122 L568,338 L600,324 M245,100 L262,112 M572,306 L577,300"/>
<ellipse class="p" cx="240" cy="128" rx="4" ry="4" transform="rotate(0 240 128)"/>
<ellipse class="p" cx="548" cy="328" rx="4" ry="4" transform="rotate(0 548 328)"/>
<use href="#nut" transform="translate(277,323) rotate(0) scale(5.0733)"/>
<use href="#nut" transform="translate(520,182) rotate(0) scale(5.0733)"/>
<use href="#nut" transform="translate(480,432) rotate(0) scale(5.0733)"/>
<path class="ld" d="M135,290 L265,320"/>
</g>
<!-- t_390_110.txt -->
<g transform="translate(390,110) scale(0.19711)">
<path class="w" d="M305,466 L338,446 L640,610 L706,672 L672,696 L600,656 Z"/>
<path class="p" d="M318,470 L345,458 L620,612 L640,610 M318,470 L600,640 L672,680 M345,458 L338,446 M620,612 L600,640 M640,610 L672,680 L706,672"/>
<ellipse class="w" cx="393" cy="512" rx="12" ry="12" transform="rotate(0 393 512)"/>
<ellipse class="w" cx="483" cy="570" rx="12" ry="12" transform="rotate(0 483 570)"/>
<ellipse class="w" cx="573" cy="626" rx="12" ry="12" transform="rotate(0 573 626)"/>
<ellipse class="p" cx="660" cy="666" rx="4" ry="4" transform="rotate(0 660 666)"/>
<use href="#scr" transform="translate(405,291) rotate(8) scale(5.0733)"/>
<use href="#scr" transform="translate(718,490) rotate(0) scale(5.0733)"/>
<use href="#nut" transform="translate(400,676) rotate(0) scale(5.0733)"/>
<path class="ld" d="M335,220 L400,305"/>
<path class="ld" d="M222,338 L320,455"/>
<path class="ld" d="M250,562 L392,668"/>
</g>
<!-- t_500_90.txt -->
<g transform="translate(500,90) scale(0.19711)">
<use href="#clp" transform="translate(381,466) rotate(0) scale(5.0733)"/>
<use href="#blt" transform="translate(320,494) rotate(-22) scale(5.0733)"/>
<use href="#scr" transform="translate(161,592) rotate(0) scale(5.0733)"/>
<use href="#clp" transform="translate(579,622) rotate(0) scale(5.0733)"/>
<use href="#blt" transform="translate(517,656) rotate(-22) scale(5.0733)"/>
<use href="#nut" transform="translate(643,18) rotate(0) scale(5.0733)"/>
<path class="ld" d="M460,55 L625,25"/>
<path class="ld" d="M90,145 L160,212"/>
</g>
<!-- t_580_0.txt -->
<g transform="translate(580,0) scale(0.19711)">
<path class="w" d="M175,334 L203,315 L640,558 L662,578 L662,592 L642,600 L626,592 L610,616 L602,614 L178,366 Z"/>
<path class="p" d="M178,346 L232,347 L612,590 L626,592 M203,315 L236,332 M186,352 L605,603 M640,558 L612,590 M175,334 L178,346"/>
<ellipse class="d" cx="216" cy="330" rx="18" ry="10" transform="rotate(-28 216 330)"/>
<ellipse class="d" cx="430" cy="447" rx="18" ry="10" transform="rotate(-28 430 447)"/>
<ellipse class="d" cx="621" cy="570" rx="18" ry="10" transform="rotate(-28 621 570)"/>
<use href="#scr" transform="translate(255,186) rotate(0) scale(5.0733)"/>
<use href="#scr" transform="translate(462,299) rotate(0) scale(5.0733)"/>
<use href="#scr" transform="translate(655,426) rotate(0) scale(5.0733)"/>
<path class="ld" d="M105,152 L238,200"/>
<path class="ld" d="M62,318 L172,340"/>
</g>
<!-- t_611_210.txt -->
<g transform="translate(611,210) scale(0.19711)">
<use href="#clp" transform="translate(240,168) rotate(0) scale(5.0733)"/>
<use href="#blt" transform="translate(180,198) rotate(-25) scale(5.0733)"/>
<path class="ld" d="M250,190 L390,270"/>
<path class="ld" d="M188,210 L212,362"/>
</g>
<!-- t_611_90.txt -->
<g transform="translate(611,90) scale(0.19711)">
<use href="#nut" transform="translate(258,138) rotate(0) scale(5.0733)"/>
<use href="#nut" transform="translate(428,243) rotate(0) scale(5.0733)"/>
<use href="#pin" transform="translate(441,701) rotate(0) scale(5.0733)"/>
<path class="ld" d="M452,710 L580,710"/>
<use href="#clp" transform="translate(15,626) rotate(0) scale(5.0733)"/>
</g>
<!-- t_80_390.txt -->
<g transform="translate(80,390) scale(0.19711)">
<path class="w" d="M278,365 L310,345 L345,358 L500,478 L735,628 L735,642 L705,662 L690,652 L662,668 L470,527 L280,396 Z"/>
<path class="p" d="M278,365 L300,372 L470,500 L668,642 L690,652 M300,372 L345,358 M286,384 L470,514 L664,655 M668,642 L735,628 M278,365 L280,396"/>
<ellipse class="d" cx="318" cy="368" rx="18" ry="10" transform="rotate(-30 318 368)"/>
<ellipse class="d" cx="495" cy="497" rx="18" ry="10" transform="rotate(-30 495 497)"/>
<ellipse class="d" cx="688" cy="625" rx="18" ry="10" transform="rotate(-30 688 625)"/>
<use href="#scr" transform="translate(327,248) rotate(0) scale(5.0733)"/>
<use href="#scr" transform="translate(503,383) rotate(0) scale(5.0733)"/>
<use href="#scr" transform="translate(697,505) rotate(0) scale(5.0733)"/>
<use href="#nut" transform="translate(312,515) rotate(0) scale(5.0733)"/>
<use href="#nut" transform="translate(487,630) rotate(0) scale(5.0733)"/>
<use href="#nut" transform="translate(658,740) rotate(0) scale(5.0733)"/>
<path class="ld" d="M158,140 L320,265"/>
<path class="ld" d="M165,265 L300,345"/>
</g>
<!-- z_full.txt -->
<g transform="translate(0,0) scale(1.00000)">
<path class="ld" d="M476.5,409 L588,641"/>
<path class="ld" d="M447.5,549.7 L472,569.5"/>
<path class="p" d="M596,641 L597.8,636.5 L599.6,641 Z M595.4,641 H600.2 V645 H595.4 Z M596.4,645 V651 H599.4 V645 M594.6,647.5 H601"/>
<path class="w" d="M596.2,657 H601 V662.6 Q598.6,664 596.2,662.6 Z"/>
<ellipse class="w" cx="598.6" cy="657" rx="2.4" ry="1.1" transform="rotate(0 598.6 657)"/>
<path class="ld" d="M600,638.7 L629.5,648.6"/>
<path class="ld" d="M601.8,660.4 L628.6,679"/>
<path class="p" d="M228.6,416.7 L399,317.2"/>
</g>
<g style="mix-blend-mode:multiply"><g transform="translate(38.7,773.8) rotate(-46.6) scale(1.06,1)"><text class="wm" style="font-size:66px" x="1.8 66.4 131.0 193.2 217.1 263.8 309.1 331.5 375.9 408.6 431.1 469.9 514.3 546.9 585.8 629.4 660.8 698.9 729.3 773.6 796.1 818.3 861.9 885.8 932.1" y="0">www.polarisersatzteile.de</text></g></g>
<text class="lb" x="148.7" y="366.3">7</text>
<text class="lb" x="688.6" y="410.9">5</text>
<text class="lb" x="702.6" y="451.5">14</text>
<text class="lb" x="710.6" y="478.0">8</text>
<text class="lb" x="729.0" y="529.2">15</text>
<text class="lb" x="601.5" y="565.1">18</text>
<text class="lb" x="676.7" y="586.2">16</text>
<text class="lb" x="398.1" y="628.8">14</text>
<text class="lb" x="284.3" y="652.3">5</text>
<text class="lb" x="284.3" y="710.7">8</text>
<text class="lb" x="324.2" y="734.7">18</text>
<text class="lb" x="357.2" y="757.5">16</text>
<text class="lb" x="419.3" y="737.9">19</text>
<text class="lb" x="24.0" y="491.1">1</text>
<text class="lb" x="67.0" y="500.0">2</text>
<text class="lb" x="90.1" y="493.5">3</text>
<text class="lb" x="182.2" y="691.8">10</text>
<text class="lb" x="161.7" y="246.2">6</text>
<text class="lb" x="264.6" y="221.6">9</text>
<text class="lb" x="243.6" y="567.8">8</text>
<text class="lb" x="289.7" y="179.6">5</text>
<text class="lb" x="243.8" y="318.9">8</text>
<text class="lb" x="453.1" y="143.9">5</text>
<text class="lb" x="428.4" y="171.7">9</text>
<text class="lb" x="426.5" y="220.2">8</text>
<text class="lb" x="577.9" y="109.1">8</text>
<text class="lb" x="503.0" y="111.1">11</text>
<text class="lb" x="588.3" y="34.3">5</text>
<text class="lb" x="579.0" y="66.8">4</text>
<text class="lb" x="700.3" y="279.0">2</text>
<text class="lb" x="655.3" y="301.7">3</text>
<text class="lb" x="735.2" y="233.7">10</text>
<text class="lb" x="102.7" y="422.1">5</text>
<text class="lb" x="100.7" y="449.7">4</text>
<text class="lb" x="483.9" y="587.2">17</text>
<text class="lb" x="639.3" y="655.7">12</text>
<text class="lb" x="637.3" y="689.0">13</text>
<text class="cp" x="176.6" y="107">© 2009 Polaris Sales Inc.</text>
</svg>
</body></html>
